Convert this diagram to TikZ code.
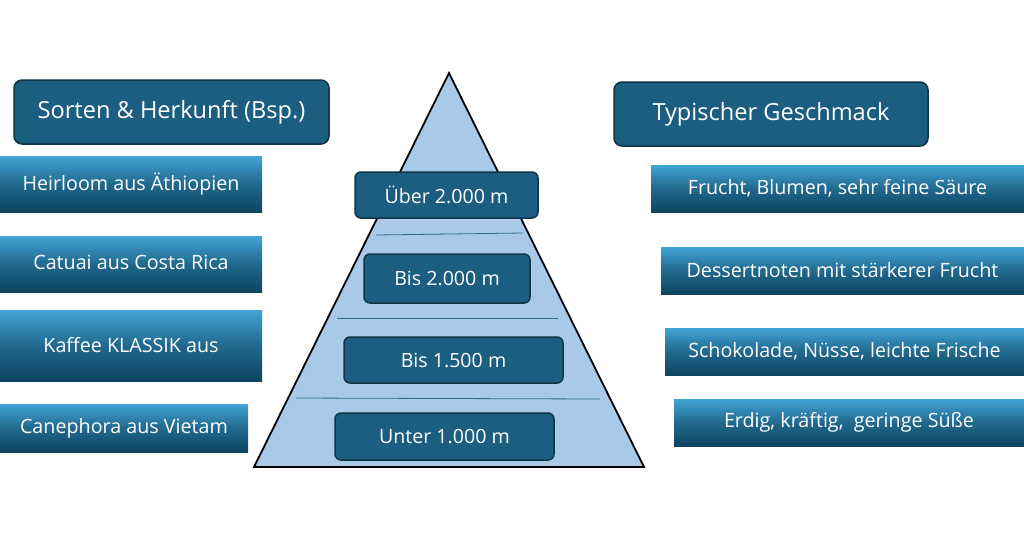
\documentclass[tikz,border=0pt]{standalone}
\usepackage{fontspec}
\setmainfont{Open Sans}
\definecolor{hdr}{HTML}{1B5E80}
\definecolor{hdrline}{HTML}{0E3446}
\definecolor{gtop}{HTML}{42A4D6}
\definecolor{gbot}{HTML}{0C4560}
\definecolor{pyr}{HTML}{A9C9E9}
\definecolor{lvl}{HTML}{2F6E8E}
\begin{document}
\begin{tikzpicture}[x=1pt,y=-1pt,
  hdrbox/.style={draw=hdrline, line width=1.5pt, fill=hdr, rounded corners=8pt, text=white, font=\fontsize{23.6}{27}\selectfont, inner sep=0pt},
  altbox/.style={draw=hdrline, line width=1.5pt, fill=hdr, rounded corners=6pt, text=white, font=\fontsize{19.6}{23}\selectfont, inner sep=0pt},
  gbox/.style={top color=gtop, bottom color=gbot, middle color=hdr!85!gtop, text=white, font=\fontsize{19.7}{23}\selectfont, inner sep=0pt},
  lvlline/.style={draw=lvl, line width=0.8pt}]
\useasboundingbox (0,0) rectangle (1024,550);
\fill[white] (0,0) rectangle (1024,550);
% pyramid
\coordinate (apex) at (449,73);
\coordinate (bl) at (254,467);
\coordinate (br) at (644,467);
\draw[fill=pyr, line width=1.8pt, line join=miter] (apex) -- (br) -- (bl) -- cycle;
\coordinate (a1) at (376,235); \coordinate (b1) at (523,233);
\coordinate (a2) at (337,318); \coordinate (b2) at (558,318);
\coordinate (a3) at (296,398); \coordinate (b3) at (600,399);
\draw[lvlline] (a1) -- (b1);
\draw[lvlline] (a2) -- (b2);
\draw[lvlline] (a3) -- (b3);
% headers
\node[hdrbox, minimum width=315pt, minimum height=64pt] (hl) at (171.5,112) {Sorten \& Herkunft (Bsp.)};
\node[hdrbox, minimum width=314pt, minimum height=64pt] (hr) at (771,114) {Typischer Geschmack};
% altitude boxes
\node[altbox, minimum width=183pt, minimum height=46pt] (h1) at (446.5,195) {Über 2.000 m};
\node[altbox, minimum width=166pt, minimum height=49pt] (h2) at (447,278.5) {Bis 2.000 m};
\node[altbox, minimum width=219pt, minimum height=46pt] (h3) at (453.5,360) {Bis 1.500 m};
\node[altbox, minimum width=219pt, minimum height=47pt] (h4) at (444.5,436.5) {Unter 1.000 m};
% left boxes
\node[gbox, minimum width=262pt, minimum height=56pt] (l1) at (131,184) {\raisebox{3pt}{Heirloom aus Äthiopien}};
\node[gbox, minimum width=262pt, minimum height=56pt] (l2) at (131,264) {\raisebox{3pt}{Catuai aus Costa Rica}};
\node[gbox, minimum width=262pt, minimum height=71pt] (l3) at (131,345.5) {Kaffee KLASSIK aus};
\node[gbox, minimum width=248pt, minimum height=48pt] (l4) at (124,428) {Canephora aus Vietam};
% right boxes
\node[gbox, minimum width=373pt, minimum height=47pt] (r1) at (837.5,188.5) {Frucht, Blumen, sehr feine Säure};
\node[gbox, minimum width=363pt, minimum height=47pt] (r2) at (842.5,270.5) {Dessertnoten mit stärkerer Frucht};
\node[gbox, minimum width=359pt, minimum height=47pt] (r3) at (844.5,351.5) {Schokolade, Nüsse, leichte Frische};
\node[gbox, minimum width=350pt, minimum height=47pt] (r4) at (849,422.5) {Erdig, kräftig,\ \ geringe Süße};
\end{tikzpicture}
\end{document}
